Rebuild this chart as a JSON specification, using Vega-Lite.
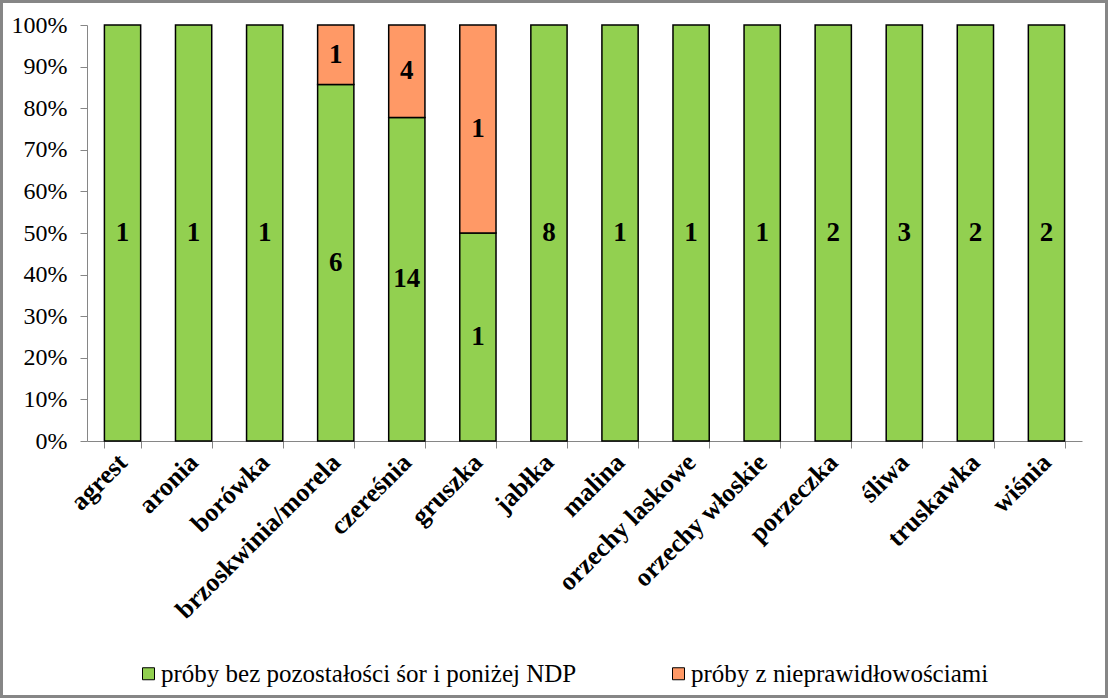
{
  "$schema": "https://vega.github.io/schema/vega-lite/v6.json",
  "width": 1108,
  "height": 698,
  "autosize": "none",
  "padding": 0,
  "background": "white",
  "config": {
    "view": {"stroke": "#868686", "strokeWidth": 6},
    "font": "Times New Roman, Liberation Serif, serif"
  },
  "data": {
    "values": [
      {"kategoria": "agrest", "grupa": "próby bez pozostałości śor i poniżej NDP", "liczba": 1},
      {"kategoria": "aronia", "grupa": "próby bez pozostałości śor i poniżej NDP", "liczba": 1},
      {"kategoria": "borówka", "grupa": "próby bez pozostałości śor i poniżej NDP", "liczba": 1},
      {"kategoria": "brzoskwinia/morela", "grupa": "próby bez pozostałości śor i poniżej NDP", "liczba": 6},
      {"kategoria": "brzoskwinia/morela", "grupa": "próby z nieprawidłowościami", "liczba": 1},
      {"kategoria": "czereśnia", "grupa": "próby bez pozostałości śor i poniżej NDP", "liczba": 14},
      {"kategoria": "czereśnia", "grupa": "próby z nieprawidłowościami", "liczba": 4},
      {"kategoria": "gruszka", "grupa": "próby bez pozostałości śor i poniżej NDP", "liczba": 1},
      {"kategoria": "gruszka", "grupa": "próby z nieprawidłowościami", "liczba": 1},
      {"kategoria": "jabłka", "grupa": "próby bez pozostałości śor i poniżej NDP", "liczba": 8},
      {"kategoria": "malina", "grupa": "próby bez pozostałości śor i poniżej NDP", "liczba": 1},
      {"kategoria": "orzechy laskowe", "grupa": "próby bez pozostałości śor i poniżej NDP", "liczba": 1},
      {"kategoria": "orzechy włoskie", "grupa": "próby bez pozostałości śor i poniżej NDP", "liczba": 1},
      {"kategoria": "porzeczka", "grupa": "próby bez pozostałości śor i poniżej NDP", "liczba": 2},
      {"kategoria": "śliwa", "grupa": "próby bez pozostałości śor i poniżej NDP", "liczba": 3},
      {"kategoria": "truskawka", "grupa": "próby bez pozostałości śor i poniżej NDP", "liczba": 2},
      {"kategoria": "wiśnia", "grupa": "próby bez pozostałości śor i poniżej NDP", "liczba": 2}
    ]
  },
  "encoding": {
    "x": {
      "field": "kategoria",
      "type": "nominal",
      "sort": null,
      "scale": {"range": [87, 1082], "paddingInner": 0.49, "paddingOuter": 0.245},
      "axis": {
        "title": null,
        "labelAngle": -45,
        "labelAlign": "right",
        "labelBaseline": "middle",
        "labelFont": "Times New Roman, Liberation Serif, serif",
        "labelFontSize": 26,
        "labelFontWeight": "bold",
        "labelColor": "black",
        "labelLimit": 500,
        "labelPadding": 10,
        "domainColor": "#868686",
        "domainWidth": 1,
        "tickColor": "#868686",
        "tickSize": 7,
        "tickBand": "extent",
        "offset": -257
      }
    }
  },
  "layer": [
    {
      "mark": {"type": "bar", "stroke": "black", "strokeWidth": 1.5},
      "encoding": {
        "y": {
          "field": "liczba",
          "type": "quantitative",
          "stack": "normalize",
          "scale": {"domain": [0, 1], "range": [441, 25]},
          "axis": {
            "title": null,
            "format": ".0%",
            "values": [0, 0.1, 0.2, 0.3, 0.4, 0.5, 0.6, 0.7, 0.8, 0.9, 1],
            "grid": false,
            "labelFont": "Times New Roman, Liberation Serif, serif",
            "labelFontSize": 24,
            "labelColor": "black",
            "labelPadding": 13,
            "domainColor": "#868686",
            "tickColor": "#868686",
            "tickSize": 7,
            "offset": -87
          }
        },
        "order": {"field": "grupa", "sort": "ascending"},
        "color": {
          "field": "grupa",
          "type": "nominal",
          "scale": {
            "domain": ["próby bez pozostałości śor i poniżej NDP", "próby z nieprawidłowościami"],
            "range": ["#92D050", "#FF9966"]
          },
          "legend": {
            "title": null,
            "orient": "none",
            "legendX": 136,
            "legendY": 661,
            "direction": "horizontal",
            "padding": 0,
            "symbolType": "square",
            "symbolSize": 144,
            "symbolStrokeColor": "black",
            "symbolStrokeWidth": 1,
            "symbolOpacity": 1,
            "labelFont": "Times New Roman, Liberation Serif, serif",
            "labelFontSize": 25,
            "labelColor": "black",
            "labelOffset": 0,
            "labelLimit": 600,
            "columnPadding": 89
          }
        }
      }
    },
    {
      "mark": {"type": "text", "font": "Times New Roman, Liberation Serif, serif", "fontSize": 27, "fontWeight": "bold", "color": "black"},
      "encoding": {
        "y": {"field": "liczba", "type": "quantitative", "stack": "normalize", "bandPosition": 0.5},
        "detail": {"field": "grupa"},
        "order": {"field": "grupa", "sort": "ascending"},
        "text": {"field": "liczba", "type": "quantitative"}
      }
    }
  ]
}
